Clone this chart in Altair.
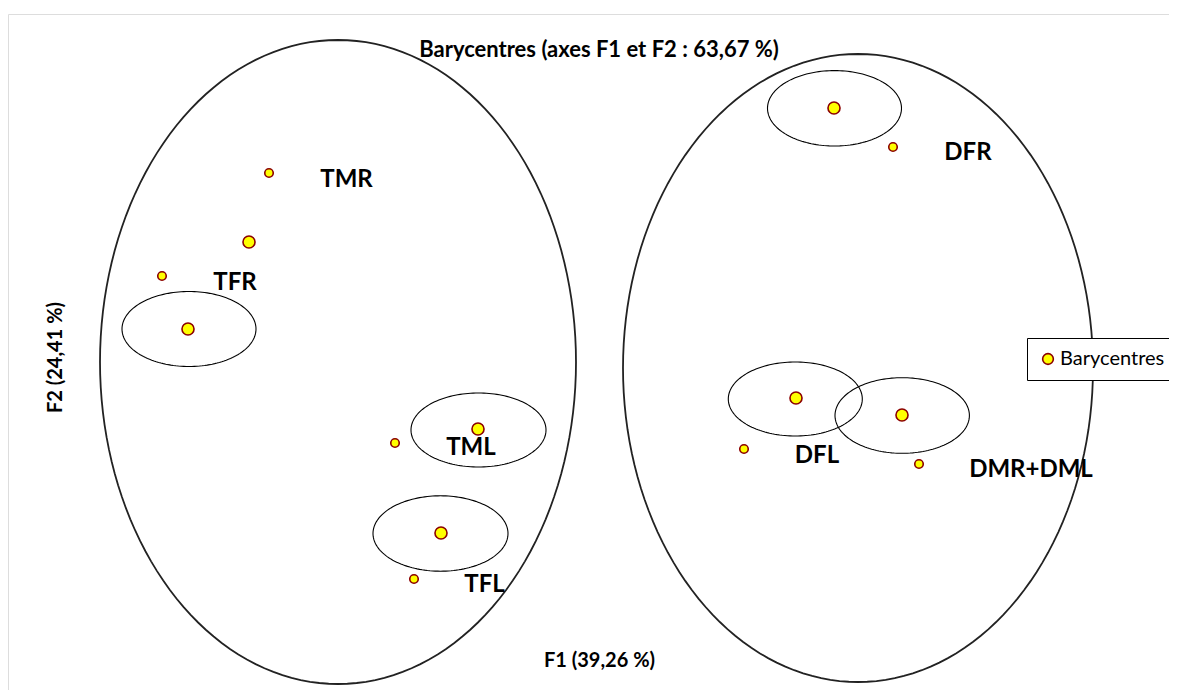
import math
import altair as alt
import pandas as pd

# ---- data (F1 / F2 coordinates) ----
pt_f1 = [-4.00, -3.39, -1.10, -1.47, 2.46, 2.08, 3.14,
         -3.19, -4.26, -1.93, -1.74, 3.05, 1.56, 3.31]
pt_f2 = [0.22, 1.09, -0.78, -1.82, 2.43, -0.47, -0.64,
         1.78, 0.75, -0.92, -2.28, 2.04, -0.98, -1.13]
pt_kind = ["grand"] * 7 + ["petit"] * 7

lab_text = ["TMR", "TFR", "TML", "TFL", "DFR", "DFL", "DMR+DML"]
lab_f1 = [-2.415, -3.53, -1.17, -1.035, 3.80, 2.29, 4.43]
lab_f2 = [1.71, 0.68, -0.97, -2.34, 1.98, -1.045, -1.185]

# small confidence ellipses (centre, radii)
sm_cx = [-3.99, -1.095, -1.475, 2.465, 2.073, 3.142]
sm_cy = [0.22, -0.79, -1.825, 2.427, -0.48, -0.645]
sm_rx = [0.67, 0.675, 0.675, 0.67, 0.67, 0.672]
sm_ry = [0.375, 0.37, 0.377, 0.377, 0.37, 0.378]

# big group ellipses
bg_cx = [-2.50, 2.70]
bg_cy = [-0.11, -0.17]
bg_rx = [2.38, 2.35]
bg_ry = [3.22, 3.14]

N = 160


def ellipse_df(cx, cy, rx, ry, prefix):
    rows = []
    for i in range(len(cx)):
        for k in range(N + 1):
            t = 2 * math.pi * k / N
            rows.append({"eid": f"{prefix}{i}", "step": k,
                         "F1": cx[i] + rx[i] * math.cos(t),
                         "F2": cy[i] + ry[i] * math.sin(t)})
    return pd.DataFrame(rows)


pts = pd.DataFrame({"F1": pt_f1, "F2": pt_f2, "kind": pt_kind,
                    "serie": ["Barycentres"] * len(pt_f1)})
labs = pd.DataFrame({"F1": lab_f1, "F2": lab_f2, "label": lab_text})
small_e = ellipse_df(sm_cx, sm_cy, sm_rx, sm_ry, "s")
big_e = ellipse_df(bg_cx, bg_cy, bg_rx, bg_ry, "b")

FONT = "Lato"
W, H = 1161, 676

xs = alt.Scale(domain=[-5.80, 5.81], nice=False, zero=False)
ys = alt.Scale(domain=[-3.39, 3.37], nice=False, zero=False)
xaxis = alt.Axis(labels=False, ticks=False, domain=False, grid=False,
                 title="F1 (39,26 %)", titleX=591, titleY=-30,
                 titleBaseline="middle", titleAlign="center",
                 titleFont=FONT, titleFontSize=20, titleFontWeight="bold",
                 titleColor="black")
yaxis = alt.Axis(labels=False, ticks=False, domain=False, grid=False,
                 title="F2 (24,41 %)", titleX=47, titleY=343, titleAngle=270,
                 titleBaseline="middle", titleAlign="center",
                 titleFont=FONT, titleFontSize=20, titleFontWeight="bold",
                 titleColor="black")


def X():
    return alt.X("F1:Q", scale=xs, axis=xaxis)


def Y():
    return alt.Y("F2:Q", scale=ys, axis=yaxis)


big_layer = alt.Chart(big_e).mark_line(color="#222222", strokeWidth=1.8).encode(
    x=X(), y=Y(), detail="eid:N", order="step:Q")

small_layer = alt.Chart(small_e).mark_line(color="black", strokeWidth=1.1).encode(
    x=X(), y=Y(), detail="eid:N", order="step:Q")

point_layer = alt.Chart(pts).mark_circle(
    stroke="#8B0000", strokeWidth=1.6, opacity=1).encode(
    x=X(), y=Y(),
    fill=alt.Fill("serie:N", scale=alt.Scale(range=["#FFFF00"]),
                  legend=alt.Legend(
                      title=None, orient="none", legendX=1019, legendY=324,
                      strokeColor="black", fillColor="white", padding=11,
                      symbolType="circle", symbolSize=115,
                      symbolStrokeColor="#8B0000", symbolStrokeWidth=1.6,
                      symbolFillColor="#FFFF00",
                      labelFont=FONT, labelFontSize=20, labelColor="black",
                      labelOffset=2)),
    size=alt.Size("kind:N", scale=alt.Scale(domain=["grand", "petit"],
                                            range=[145, 72]), legend=None))

label_layer = alt.Chart(labs).mark_text(
    font=FONT, fontSize=24, fontWeight="bold", color="black",
    align="center", baseline="middle").encode(
    x=X(), y=Y(), text="label:N")

chart = alt.layer(big_layer, small_layer, point_layer, label_layer).properties(
    width=W, height=H,
    title=alt.TitleParams(text="Barycentres (axes F1 et F2 : 63,67 %)",
                          font=FONT, fontSize=22, fontWeight="bold",
                          color="black", anchor="middle", frame="group",
                          baseline="middle", offset=0, dy=58, dx=10.5),
    autosize=alt.AutoSizeParams(type="none"),
    padding={"left": 0, "top": 6, "right": 0, "bottom": 0},
).configure_view(
    stroke="#8a8a8a", strokeWidth=1.5, cornerRadius=14
).configure(background="white")

chart.save("out.html", embed_options={"renderer": "svg", "actions": False})
